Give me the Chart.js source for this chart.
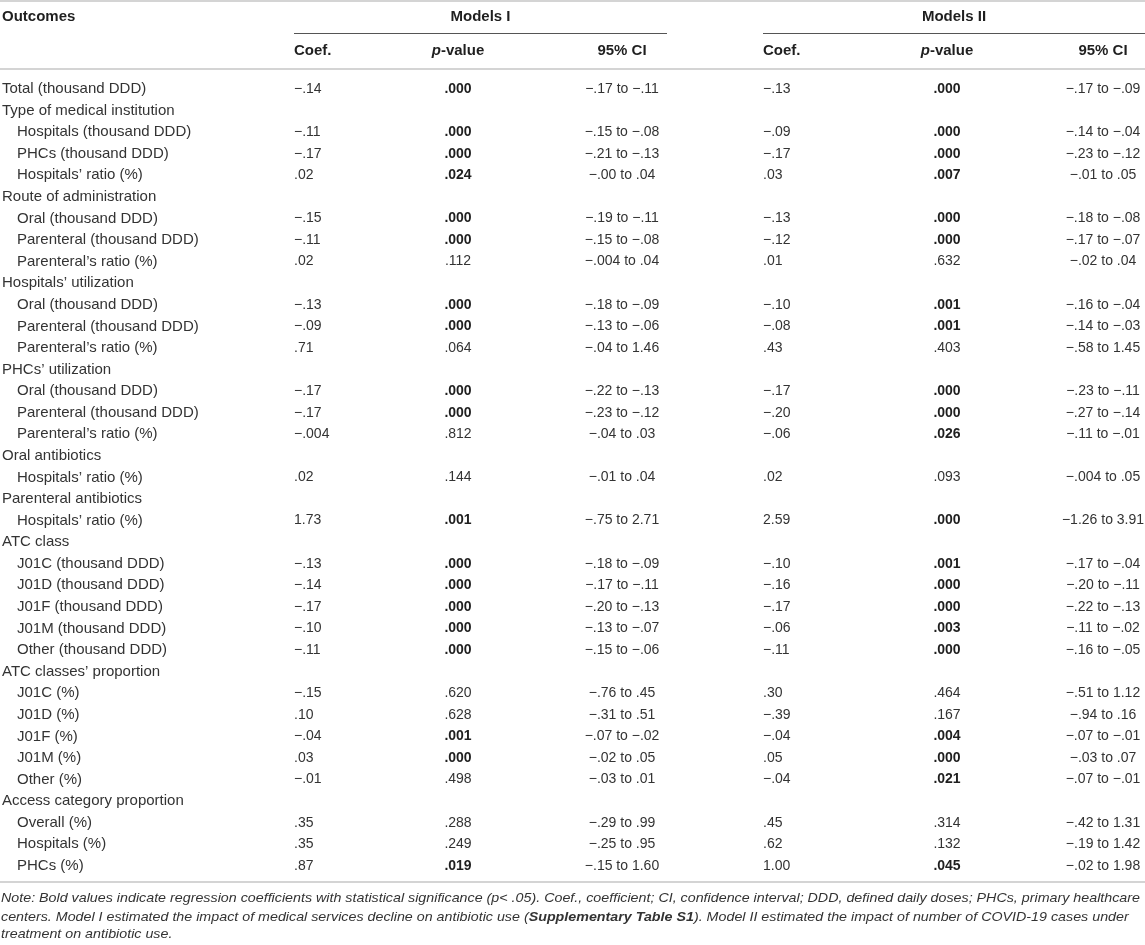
<!DOCTYPE html>
<html>
<head>
<meta charset="utf-8">
<script src="https://cdn.jsdelivr.net/npm/chart.js@4.4.1/dist/chart.umd.min.js"></script>
<style>
  html, body { margin: 0; padding: 0; background: #fff; }
  .table-chart { width: 1145px; height: 945px; position: relative; }
</style>
</head>
<body>
<div class="table-chart"><canvas id="tableChart"></canvas></div>
<script>
// Rows of the table (0 = group heading, 1 = indented outcome)
const outcomes = [
  'Total (thousand DDD)',
  'Type of medical institution',
  'Hospitals (thousand DDD)',
  'PHCs (thousand DDD)',
  'Hospitals’ ratio (%)',
  'Route of administration',
  'Oral (thousand DDD)',
  'Parenteral (thousand DDD)',
  'Parenteral’s ratio (%)',
  'Hospitals’ utilization',
  'Oral (thousand DDD)',
  'Parenteral (thousand DDD)',
  'Parenteral’s ratio (%)',
  'PHCs’ utilization',
  'Oral (thousand DDD)',
  'Parenteral (thousand DDD)',
  'Parenteral’s ratio (%)',
  'Oral antibiotics',
  'Hospitals’ ratio (%)',
  'Parenteral antibiotics',
  'Hospitals’ ratio (%)',
  'ATC class',
  'J01C (thousand DDD)',
  'J01D (thousand DDD)',
  'J01F (thousand DDD)',
  'J01M (thousand DDD)',
  'Other (thousand DDD)',
  'ATC classes’ proportion',
  'J01C (%)',
  'J01D (%)',
  'J01F (%)',
  'J01M (%)',
  'Other (%)',
  'Access category proportion',
  'Overall (%)',
  'Hospitals (%)',
  'PHCs (%)'
];
const levels = [0,0,1,1,1,0,1,1,1,0,1,1,1,0,1,1,1,0,1,0,1,0,1,1,1,1,1,0,1,1,1,1,1,0,1,1,1];

// Models I
const coef1 = ['−.14', null, '−.11', '−.17', '.02', null, '−.15', '−.11', '.02', null, '−.13', '−.09', '.71', null, '−.17', '−.17', '−.004', null, '.02', null, '1.73', null, '−.13', '−.14', '−.17', '−.10', '−.11', null, '−.15', '.10', '−.04', '.03', '−.01', null, '.35', '.35', '.87'];
const p1 = ['.000', null, '.000', '.000', '.024', null, '.000', '.000', '.112', null, '.000', '.000', '.064', null, '.000', '.000', '.812', null, '.144', null, '.001', null, '.000', '.000', '.000', '.000', '.000', null, '.620', '.628', '.001', '.000', '.498', null, '.288', '.249', '.019'];
const ci1 = ['−.17 to −.11', null, '−.15 to −.08', '−.21 to −.13', '−.00 to .04', null, '−.19 to −.11', '−.15 to −.08', '−.004 to .04', null, '−.18 to −.09', '−.13 to −.06', '−.04 to 1.46', null, '−.22 to −.13', '−.23 to −.12', '−.04 to .03', null, '−.01 to .04', null, '−.75 to 2.71', null, '−.18 to −.09', '−.17 to −.11', '−.20 to −.13', '−.13 to −.07', '−.15 to −.06', null, '−.76 to .45', '−.31 to .51', '−.07 to −.02', '−.02 to .05', '−.03 to .01', null, '−.29 to .99', '−.25 to .95', '−.15 to 1.60'];

// Models II
const coef2 = ['−.13', null, '−.09', '−.17', '.03', null, '−.13', '−.12', '.01', null, '−.10', '−.08', '.43', null, '−.17', '−.20', '−.06', null, '.02', null, '2.59', null, '−.10', '−.16', '−.17', '−.06', '−.11', null, '.30', '−.39', '−.04', '.05', '−.04', null, '.45', '.62', '1.00'];
const p2 = ['.000', null, '.000', '.000', '.007', null, '.000', '.000', '.632', null, '.001', '.001', '.403', null, '.000', '.000', '.026', null, '.093', null, '.000', null, '.001', '.000', '.000', '.003', '.000', null, '.464', '.167', '.004', '.000', '.021', null, '.314', '.132', '.045'];
const ci2 = ['−.17 to −.09', null, '−.14 to −.04', '−.23 to −.12', '−.01 to .05', null, '−.18 to −.08', '−.17 to −.07', '−.02 to .04', null, '−.16 to −.04', '−.14 to −.03', '−.58 to 1.45', null, '−.23 to −.11', '−.27 to −.14', '−.11 to −.01', null, '−.004 to .05', null, '−1.26 to 3.91', null, '−.17 to −.04', '−.20 to −.11', '−.22 to −.13', '−.11 to −.02', '−.16 to −.05', null, '−.51 to 1.12', '−.94 to .16', '−.07 to −.01', '−.03 to .07', '−.07 to −.01', null, '−.42 to 1.31', '−.19 to 1.42', '−.02 to 1.98'];

const groupHeaders = ['Outcomes', 'Models I', 'Models II'];
const subHeaders = ['Coef.', 'p-value', '95% CI'];
const noteLines = [
  'Note: Bold values indicate regression coefficients with statistical significance (p< .05). Coef., coefficient; CI, confidence interval; DDD, defined daily doses; PHCs, primary healthcare',
  'centers. Model I estimated the impact of medical services decline on antibiotic use (|Supplementary Table S1|). Model II estimated the impact of number of COVID-19 cases under',
  'treatment on antibiotic use.'
];

// layout (pixels / row units)
const W = 1145, H = 945;
const FIRST_ROW = 89, ROW_H = 21.58;
const rowOf = px => (px - FIRST_ROW) / ROW_H;
const X = { outcome: 2, indent: 17, coef1: 294, p1: 458, ci1: 622, coef2: 763, p2: 947, ci2: 1103 };
const FONT = '"Liberation Sans", Arial, Helvetica, sans-serif';
const TEXT = '#333333';
const HEAD = '#1f1f1f';
const RULE = '#d4d4d4';

function columnSet(values, x, align, size, boldTest) {
  const data = [];
  const texts = [];
  values.forEach((v, i) => {
    if (v === null) return;
    data.push({ x: typeof x === 'function' ? x(i) : x, y: i });
    texts.push(v);
  });
  return { data, texts, align, size, boldTest, pointRadius: 0, showLine: false };
}

const isSig = s => parseFloat(s) < 0.05;

const datasets = [
  columnSet(outcomes, i => levels[i] ? X.indent : X.outcome, 'left', 15),
  columnSet(coef1, X.coef1, 'left', 14),
  columnSet(p1, X.p1, 'center', 14, isSig),
  columnSet(ci1, X.ci1, 'center', 14),
  columnSet(coef2, X.coef2, 'left', 14),
  columnSet(p2, X.p2, 'center', 14, isSig),
  columnSet(ci2, X.ci2, 'center', 14)
];

const tablePlugin = {
  id: 'tablePlugin',
  afterDatasetsDraw(chart) {
    const ctx = chart.ctx;
    const xs = chart.scales.x, ys = chart.scales.y;
    const px = v => xs.getPixelForValue(v);
    const py = r => ys.getPixelForValue(r);

    ctx.save();
    ctx.textBaseline = 'middle';

    // rules
    const rule = (x1, x2, r, color, w) => {
      ctx.beginPath();
      ctx.strokeStyle = color;
      ctx.lineWidth = w;
      ctx.moveTo(px(x1), py(r));
      ctx.lineTo(px(x2), py(r));
      ctx.stroke();
    };
    rule(0, W, rowOf(1), RULE, 2);
    rule(X.coef1, 667, rowOf(33.5), '#555', 1);
    rule(X.coef2, W, rowOf(33.5), '#555', 1);
    rule(0, W, rowOf(69), RULE, 2);
    rule(0, W, rowOf(882), RULE, 2);

    // headers
    ctx.fillStyle = HEAD;
    ctx.font = 'bold 15px ' + FONT;
    ctx.textAlign = 'left';
    ctx.fillText(groupHeaders[0], px(X.outcome), py(rowOf(17)));
    ctx.textAlign = 'center';
    ctx.fillText(groupHeaders[1], px((X.coef1 + 667) / 2), py(rowOf(17)));
    ctx.fillText(groupHeaders[2], px((X.coef2 + W) / 2), py(rowOf(17)));

    const subRow = py(rowOf(51));
    [[X.coef1, X.p1, X.ci1], [X.coef2, X.p2, X.ci2]].forEach(cols => {
      ctx.font = 'bold 15px ' + FONT;
      ctx.textAlign = 'left';
      ctx.fillText(subHeaders[0], px(cols[0]), subRow);
      // italic p + "-value"
      const first = subHeaders[1].slice(0, 1), rest = subHeaders[1].slice(1);
      ctx.font = 'italic bold 15px ' + FONT;
      const w1 = ctx.measureText(first).width;
      ctx.font = 'bold 15px ' + FONT;
      const w2 = ctx.measureText(rest).width;
      const start = px(cols[1]) - (w1 + w2) / 2;
      ctx.font = 'italic bold 15px ' + FONT;
      ctx.fillText(first, start, subRow);
      ctx.font = 'bold 15px ' + FONT;
      ctx.fillText(rest, start + w1, subRow);
      ctx.textAlign = 'center';
      ctx.fillText(subHeaders[2], px(cols[2]), subRow);
    });

    // body cells
    chart.data.datasets.forEach((ds, di) => {
      const meta = chart.getDatasetMeta(di);
      ctx.textAlign = ds.align;
      meta.data.forEach((pt, j) => {
        const t = ds.texts[j];
        const bold = ds.boldTest && ds.boldTest(t);
        ctx.font = (bold ? 'bold ' : '') + ds.size + 'px ' + FONT;
        ctx.fillStyle = bold ? HEAD : TEXT;
        ctx.fillText(t, pt.x, pt.y);
      });
    });

    // note, stretched so the first line runs the full width like the original
    ctx.textAlign = 'left';
    ctx.fillStyle = TEXT;
    ctx.font = 'italic 13px ' + FONT;
    const sx = (W - 6) / ctx.measureText(noteLines[0]).width;
    const noteRows = [898, 917, 934];
    noteLines.forEach((line, li) => {
      const parts = line.split('|');
      let x = 0;
      ctx.save();
      ctx.translate(px(0) + 1, py(rowOf(noteRows[li])));
      ctx.scale(sx, 1);
      parts.forEach((part, k) => {
        ctx.font = (k % 2 ? 'italic bold ' : 'italic ') + '13px ' + FONT;
        ctx.fillText(part, x, 0);
        x += ctx.measureText(part).width;
      });
      ctx.restore();
    });

    ctx.restore();
  }
};

new Chart(document.getElementById('tableChart'), {
  type: 'scatter',
  data: { datasets },
  options: {
    responsive: true,
    maintainAspectRatio: false,
    animation: false,
    events: [],
    layout: { padding: 0, autoPadding: false },
    scales: {
      x: { type: 'linear', display: false, min: 0, max: W },
      y: { type: 'linear', display: false, reverse: true, min: rowOf(0), max: rowOf(H) }
    },
    plugins: {
      legend: { display: false },
      tooltip: { enabled: false }
    }
  },
  plugins: [tablePlugin]
});
</script>
</body>
</html>
